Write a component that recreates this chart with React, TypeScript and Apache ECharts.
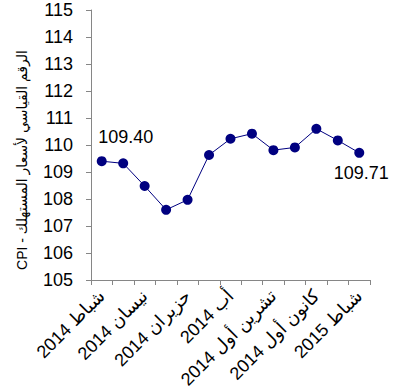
import React, { useEffect, useRef } from "react";
import * as echarts from "echarts";

const months = [
  "شباط 2014",
  "آذار 2014",
  "نيسان 2014",
  "أيار 2014",
  "حزيران 2014",
  "تموز 2014",
  "أب 2014",
  "أيلول 2014",
  "تشرين أول 2014",
  "تشرين ثاني 2014",
  "كانون أول 2014",
  "كانون ثاني 2015",
  "شباط 2015",
];
const cpiValues = [
  109.4, 109.32, 108.48, 107.6, 107.97, 109.63, 110.23, 110.42, 109.81, 109.91,
  110.6, 110.17, 109.71,
];
const yTitle = "CPI - الرقم القياسي لأسعار المستهلك";
const yMin = 105;
const yMax = 115;
const yStep = 1;

const FONT = 'Arial, "Liberation Sans", "DejaVu Sans", sans-serif';

export default function App() {
  const ref = useRef<HTMLDivElement>(null);
  useEffect(() => {
    if (!ref.current) return;
    const chart = echarts.init(ref.current, undefined, { renderer: "svg" });
    const last = cpiValues.length - 1;
    chart.setOption({
      animation: false,
      backgroundColor: "#ffffff",
      textStyle: { fontFamily: FONT },
      grid: { left: 91, top: 10, width: 279, height: 270, containLabel: false },
      xAxis: {
        type: "category",
        data: months,
        boundaryGap: true,
        axisLine: { lineStyle: { color: "#868686", width: 1 } },
        axisTick: { show: true, interval: 0, length: 5, lineStyle: { color: "#868686" } },
        axisLabel: {
          interval: 1,
          rotate: 45,
          color: "#000",
          fontSize: 18,
          fontFamily: FONT,
          margin: 13,
        },
        splitLine: { show: false },
      },
      yAxis: {
        type: "value",
        min: yMin,
        max: yMax,
        interval: yStep,
        axisLine: { show: true, lineStyle: { color: "#868686", width: 1 } },
        axisTick: { show: true, length: 5, lineStyle: { color: "#868686" } },
        axisLabel: { color: "#000", fontSize: 18, fontFamily: FONT, margin: 18 },
        splitLine: { show: false },
      },
      graphic: [
        {
          type: "text",
          x: 22,
          y: 160,
          rotation: Math.PI / 2,
          style: {
            text: yTitle,
            fontSize: 14,
            fontFamily: FONT,
            fill: "#000",
            align: "center",
            verticalAlign: "middle",
          },
        },
      ],
      series: [
        {
          type: "line",
          data: cpiValues.map((v, i) => {
            if (i === 0)
              return {
                value: v,
                label: {
                  show: true,
                  position: "top",
                  offset: [24, -5],
                  formatter: (p: any) => Number(p.value).toFixed(2),
                },
              };
            if (i === last)
              return {
                value: v,
                label: {
                  show: true,
                  position: "bottom",
                  offset: [2, 1],
                  formatter: (p: any) => Number(p.value).toFixed(2),
                },
              };
            return v;
          }),
          symbol: "circle",
          symbolSize: 10,
          itemStyle: { color: "#000080" },
          lineStyle: { color: "#000080", width: 1 },
          label: { show: false, color: "#000", fontSize: 18, fontFamily: FONT },
        },
      ],
    });
    return () => chart.dispose();
  }, []);
  return <div ref={ref} style={{ width: 401, height: 392, position: "absolute", left: 0, top: 0 }} />;
}
